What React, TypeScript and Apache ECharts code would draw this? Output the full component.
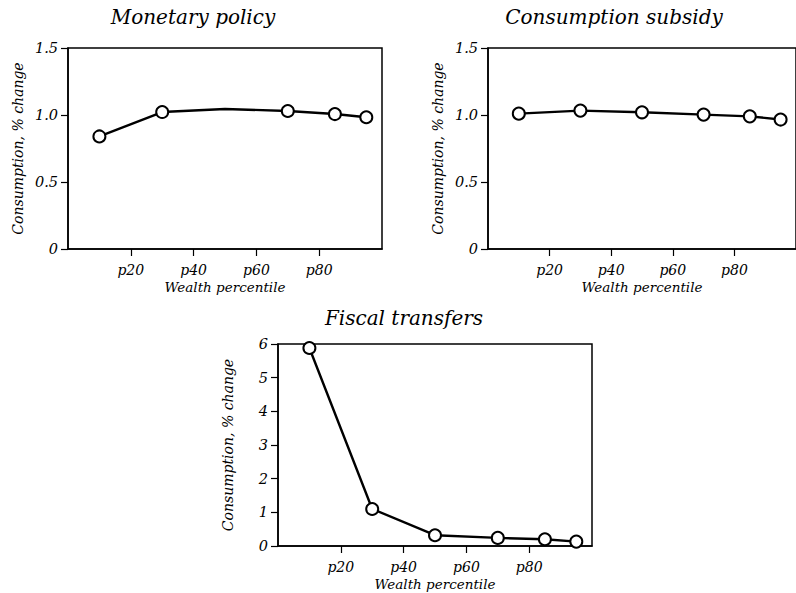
import React, { useEffect, useRef } from "react";
import * as echarts from "echarts";

const percentiles = [10, 30, 50, 70, 85, 95];
const monetary = [0.84, 1.022, 1.045, 1.03, 1.007, 0.983];
const subsidy = [1.01, 1.033, 1.02, 1.003, 0.99, 0.966];
const fiscal = [5.88, 1.1, 0.32, 0.24, 0.2, 0.13];
const xTicks = [20, 40, 60, 80];
const titles = ["Monetary policy", "Consumption subsidy", "Fiscal transfers"];
const xName = "Wealth percentile";
const yName = "Consumption, % change";

const FONT = "DejaVu Serif";

export default function App() {
  const ref = useRef<HTMLDivElement>(null);
  useEffect(() => {
    if (!ref.current) return;
    const chart = echarts.init(ref.current, null, { renderer: "svg" });
    const grids = [
      { left: 68, top: 48, width: 314, height: 201 },
      { left: 488, top: 48, width: 313, height: 201 },
      { left: 278, top: 344, width: 314, height: 202 },
    ];
    const mkX = (i: number) => ({
      type: "value",
      gridIndex: i,
      min: 0,
      max: 100,
      interval: 20,
      name: xName,
      nameLocation: "middle",
      nameGap: 31,
      nameTextStyle: { fontFamily: FONT, fontStyle: "italic", fontSize: 13.5, color: "#000" },
      axisLine: { show: true, lineStyle: { color: "#000", width: 1.5 } },
      axisTick: { show: true, length: 7, customValues: xTicks, lineStyle: { color: "#000", width: 1.2 } },
      axisLabel: {
        customValues: xTicks,
        formatter: (v: number) => "p" + v,
        fontFamily: FONT,
        fontStyle: "italic",
        fontSize: 14,
        color: "#000",
        margin: 14,
      },
      splitLine: { show: false },
    });
    const mkY = (i: number, max: number, interval: number, fmt: (v: number) => string) => ({
      type: "value",
      gridIndex: i,
      min: 0,
      max,
      interval,
      name: yName,
      nameLocation: "middle",
      nameGap: 43,
      nameTextStyle: { fontFamily: FONT, fontStyle: "italic", fontSize: 14, color: "#000" },
      axisLine: { show: true, lineStyle: { color: "#000", width: 1.5 } },
      axisTick: { show: true, length: 7, lineStyle: { color: "#000", width: 1.2 } },
      axisLabel: {
        formatter: fmt,
        fontFamily: FONT,
        fontStyle: "italic",
        fontSize: 14.5,
        color: "#000",
        margin: 10,
      },
      splitLine: { show: false },
    });
    const fmtDec = (v: number) => (v === 0 ? "0" : v.toFixed(1));
    const fmtInt = (v: number) => String(v);
    const mkSeries = (i: number, vals: number[], hideIdx: number[] = []) => ({
      type: "line",
      xAxisIndex: i,
      yAxisIndex: i,
      data: percentiles.map((p, k) =>
        hideIdx.includes(k) ? { value: [p, vals[k]], symbol: "none" } : { value: [p, vals[k]] }
      ),
      symbol: "circle",
      symbolSize: 12,
      showAllSymbol: true,
      lineStyle: { color: "#000", width: 2.4 },
      itemStyle: { color: "#fff", borderColor: "#000", borderWidth: 2 },
      z: 3,
    });
    const titleText = (text: string, x: number, y: number) => ({
      type: "text",
      x,
      y,
      style: {
        text,
        align: "center",
        verticalAlign: "middle",
        font: `italic 20px "${FONT}"`,
        fill: "#000",
      },
    });
    chart.setOption({
      animation: false,
      backgroundColor: "#fff",
      grid: grids.map((g) => ({ ...g, show: true, borderColor: "#000", borderWidth: 1.5, backgroundColor: "transparent" })),
      xAxis: [mkX(0), mkX(1), mkX(2)],
      yAxis: [mkY(0, 1.5, 0.5, fmtDec), mkY(1, 1.5, 0.5, fmtDec), mkY(2, 6, 1, fmtInt)],
      series: [mkSeries(0, monetary, [2]), mkSeries(1, subsidy), mkSeries(2, fiscal)],
      graphic: [
        titleText(titles[0], 193, 17),
        titleText(titles[1], 614, 17),
        titleText(titles[2], 404, 318),
      ],
    });
    return () => chart.dispose();
  }, []);
  return <div ref={ref} style={{ position: "fixed", left: 0, top: 0, width: 796, height: 593 }} />;
}
